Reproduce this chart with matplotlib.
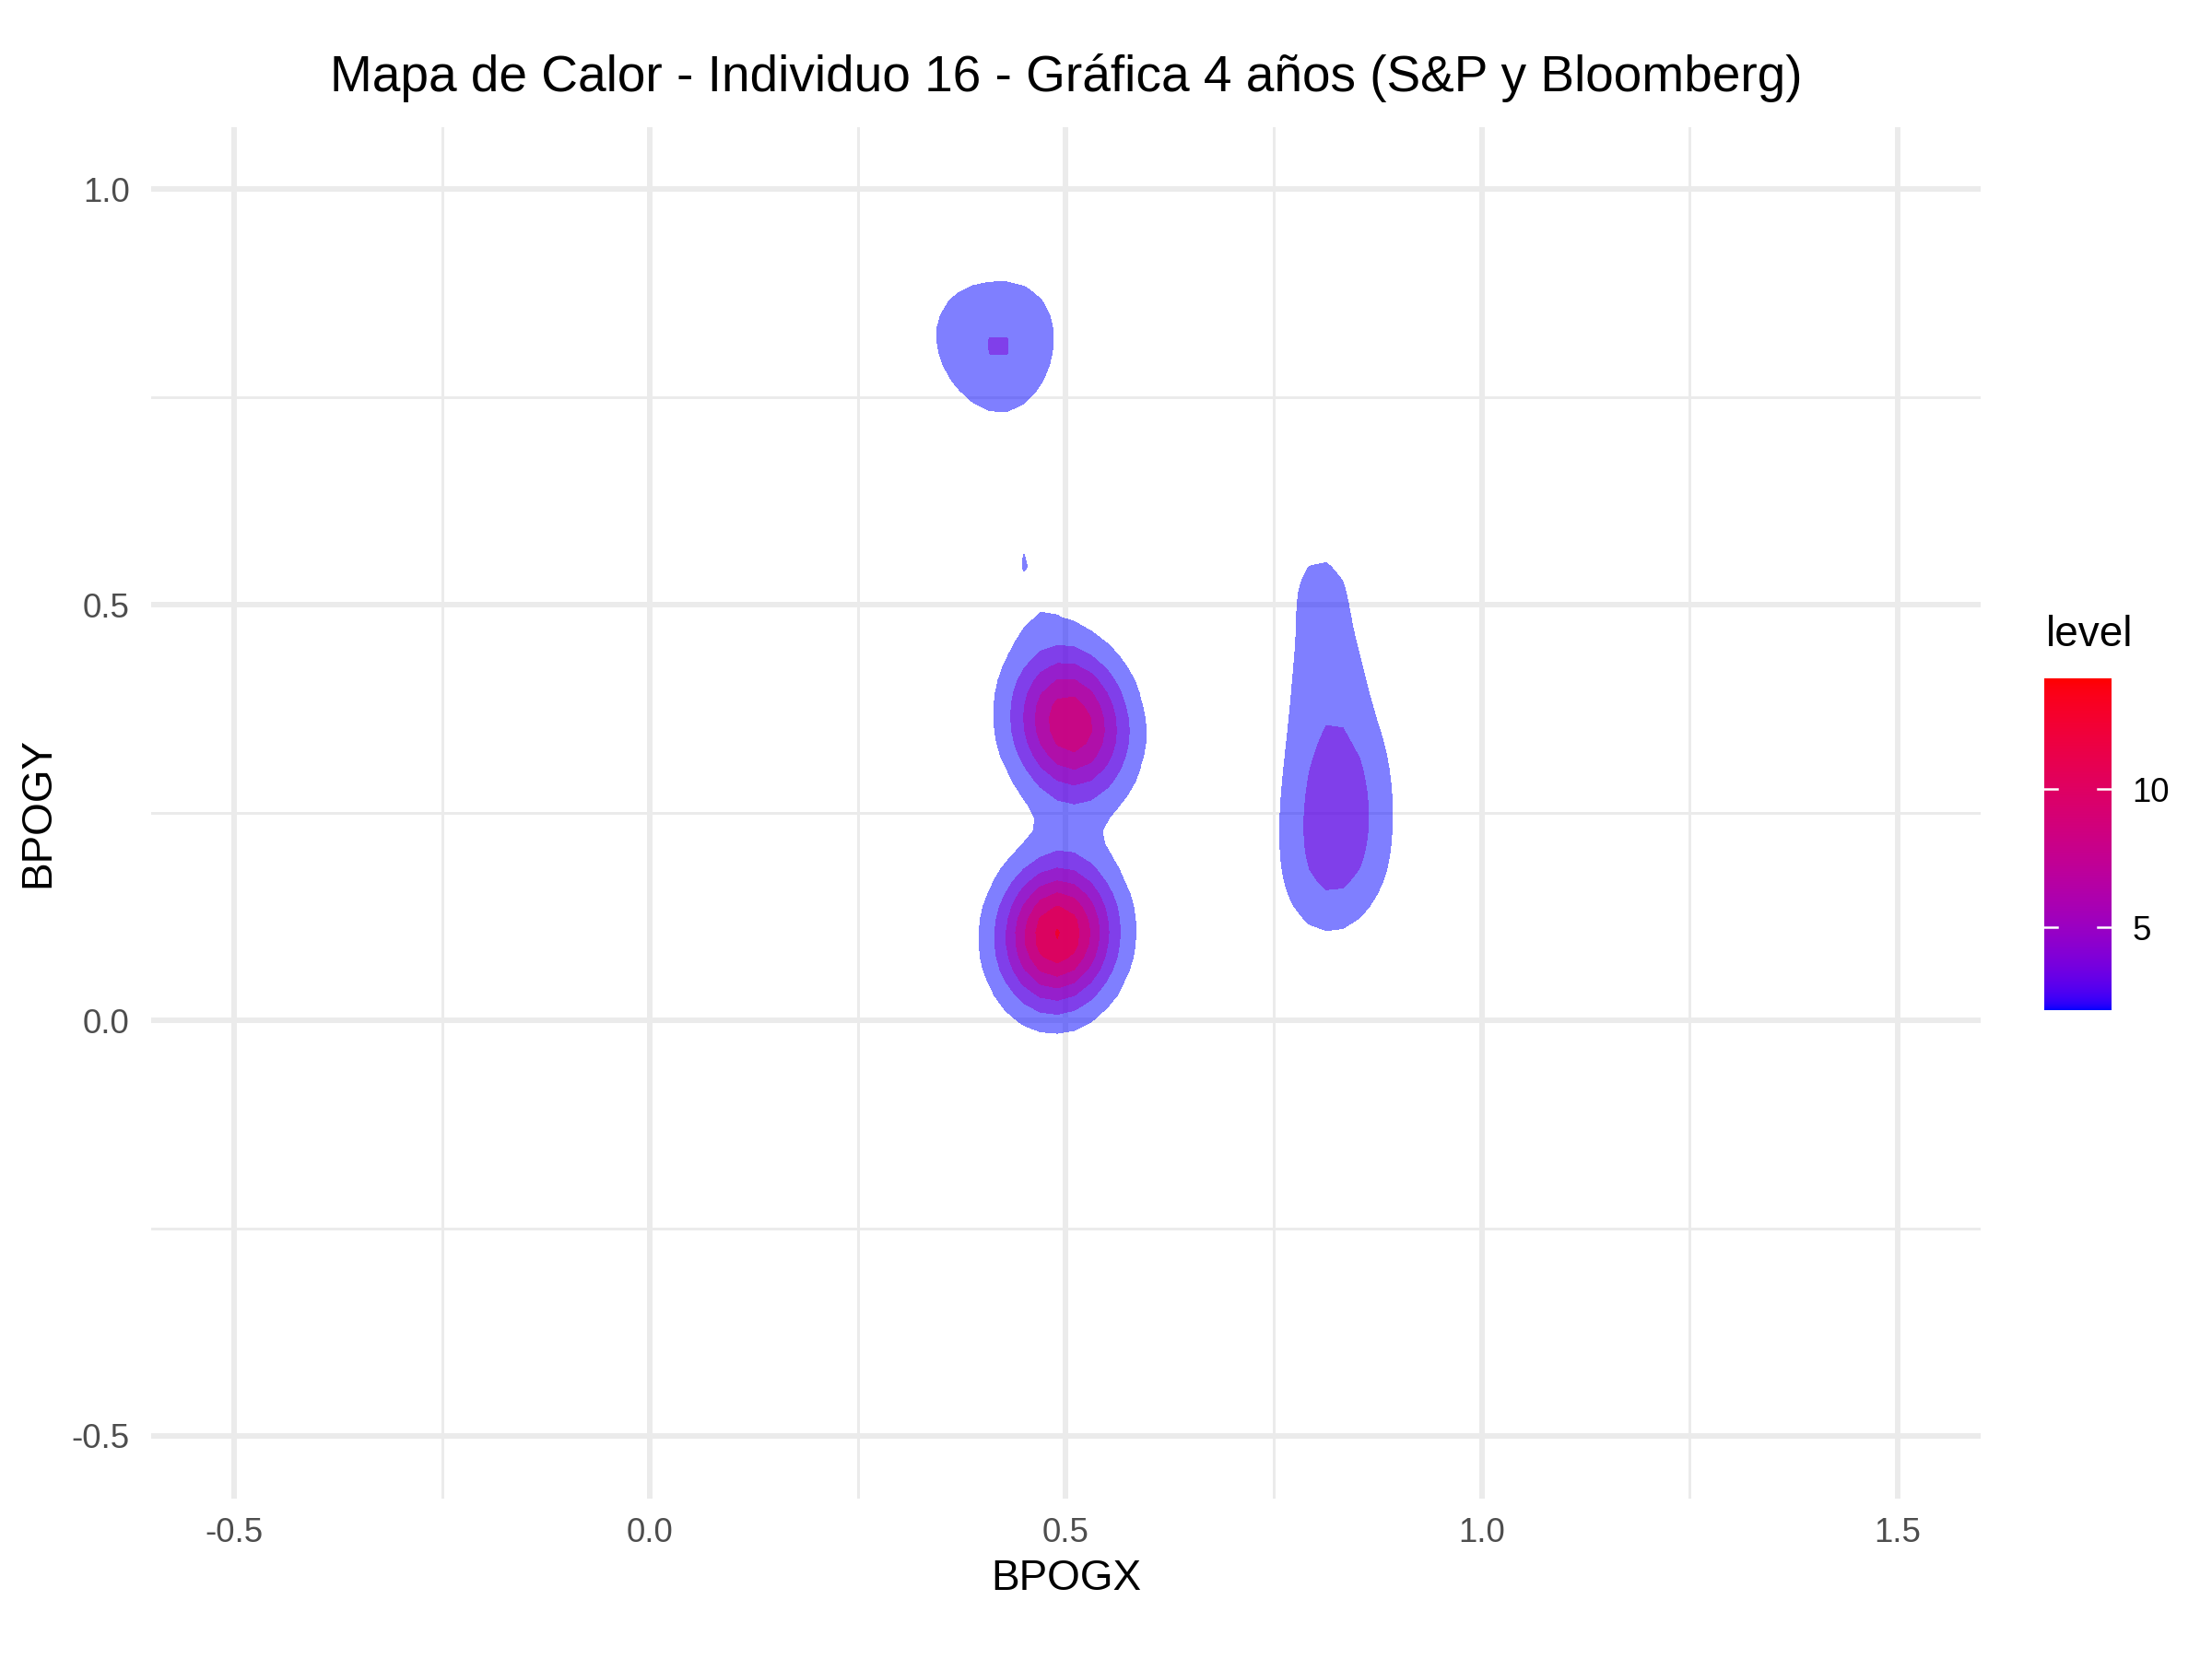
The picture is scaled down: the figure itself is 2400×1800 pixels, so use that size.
import numpy as np
import matplotlib
matplotlib.use("Agg")
import matplotlib.pyplot as plt

bpogx = [0.49, 0.49, 0.465, 0.515, 0.49, 0.49, 0.47, 0.51,   # lower cluster
         0.505, 0.48, 0.53, 0.505, 0.505, 0.48, 0.53,         # upper cluster
         0.81, 0.84, 0.81, 0.84, 0.818, 0.815, 0.806,         # right column
         0.3732, 0.4502, 0.4227,                              # top left
         0.452]                                               # lone point
bpogy = [0.103, 0.103, 0.103, 0.103, 0.073, 0.133, 0.083, 0.123,
         0.357, 0.36, 0.352, 0.325, 0.39, 0.39, 0.325,
         0.155, 0.199, 0.243, 0.287, 0.34, 0.425, 0.53,
         0.8315, 0.837, 0.7765,
         0.555]
n_obs = 32            # sample size used for the density normalisation
bw = (0.044, 0.057)   # kernel sd in x and y

levels = [2, 4, 6, 8, 10, 12, 14]
level_lim = (2, 14)
bar_ticks = [5, 10]
x_ticks = [-0.5, 0.0, 0.5, 1.0, 1.5]
y_ticks = [-0.5, 0.0, 0.5, 1.0]
x_lim = (-0.5, 1.5)
y_lim = (-0.5, 1.0)

title = "Mapa de Calor - Individuo 16 - Gráfica 4 años (S&P y Bloomberg)"

plt.rcParams['font.family'] = ['Liberation Sans', 'DejaVu Sans']

# blue -> red gradient interpolated in CIELAB, like ggplot's scale_fill_gradient
M = np.array([[0.4124, 0.3576, 0.1805],
              [0.2126, 0.7152, 0.0722],
              [0.0193, 0.1192, 0.9505]])
WHITE = np.array([0.95047, 1.0, 1.08883])


def to_lab(rgb):
    c = np.asarray(rgb, float)
    lin = np.where(c <= 0.04045, c / 12.92, ((c + 0.055) / 1.055) ** 2.4)
    xyz = M @ lin / WHITE
    f = np.where(xyz > (6 / 29) ** 3, np.cbrt(xyz), xyz / (3 * (6 / 29) ** 2) + 4 / 29)
    return np.array([116 * f[1] - 16, 500 * (f[0] - f[1]), 200 * (f[1] - f[2])])


def from_lab(lab):
    fy = (lab[0] + 16) / 116
    f = np.array([fy + lab[1] / 500, fy, fy - lab[2] / 200])
    xyz = np.where(f > 6 / 29, f ** 3, 3 * (6 / 29) ** 2 * (f - 4 / 29)) * WHITE
    lin = np.clip(np.linalg.inv(M) @ xyz, 0, 1)
    c = np.where(lin <= 0.0031308, 12.92 * lin, 1.055 * lin ** (1 / 2.4) - 0.055)
    return np.clip(c, 0, 1)


LAB_LO = to_lab([0, 0, 1])
LAB_HI = to_lab([1, 0, 0])


def fill_colour(v):
    t = (v - level_lim[0]) / (level_lim[1] - level_lim[0])
    return from_lab((1 - t) * LAB_LO + t * LAB_HI)


# 2d kernel density on a 100 x 100 grid over the axis limits
gx = np.linspace(x_lim[0], x_lim[1], 100)
gy = np.linspace(y_lim[0], y_lim[1], 100)
X, Y = np.meshgrid(gx, gy)
dens = np.zeros_like(X)
for px, py in zip(bpogx, bpogy):
    dens += np.exp(-0.5 * ((X - px) / bw[0]) ** 2 - 0.5 * ((Y - py) / bw[1]) ** 2)
dens /= 2 * np.pi * bw[0] * bw[1] * n_obs

fig = plt.figure(figsize=(8, 6), dpi=300)
ax = fig.add_axes([0.0682, 0.0969, 0.8272, 0.8266])

# one translucent polygon per level, stacked like geom_density_2d polygons
for lev in levels:
    if dens.max() > lev:
        ax.contourf(gx, gy, dens, levels=[lev, dens.max() + 1],
                    colors=[fill_colour(lev)], alpha=0.5, zorder=3)

ax.set_xlim(x_lim[0] - 0.1, x_lim[1] + 0.1)
ax.set_ylim(y_lim[0] - 0.075, y_lim[1] + 0.075)
ax.set_xticks(x_ticks)
ax.set_yticks(y_ticks)
ax.set_xticks([-0.25, 0.25, 0.75, 1.25], minor=True)
ax.set_yticks([-0.25, 0.25, 0.75], minor=True)
ax.set_xticklabels([f"{v:.1f}" for v in x_ticks])
ax.set_yticklabels([f"{v:.1f}" for v in y_ticks])
ax.grid(which='major', color='#EBEBEB', lw=1.42, zorder=0)
ax.grid(which='minor', color='#EBEBEB', lw=0.71, zorder=0)
ax.tick_params(which='both', length=0, labelsize=8.8, labelcolor='#4D4D4D')
ax.tick_params(axis='x', pad=5.0)
ax.tick_params(axis='y', pad=5.5)
for s in ax.spines.values():
    s.set_visible(False)

fig.text(0.4818, 0.953, title, ha='center', va='center', fontsize=13.2)
fig.text(0.4818, 0.0485, "BPOGX", ha='center', va='center', fontsize=11)
fig.text(0.0172, 0.5102, "BPOGY", ha='center', va='center', fontsize=11, rotation=90)

# colour bar
cax = fig.add_axes([0.924, 0.391, 0.0304, 0.2])
grad = np.linspace(level_lim[0], level_lim[1], 300)
cax.imshow(np.array([fill_colour(v) for v in grad])[:, None, :], origin='lower',
           extent=[0, 1, level_lim[0], level_lim[1]], aspect='auto')
for t in bar_ticks:
    cax.plot([0, 0.2], [t, t], color='white', lw=0.6)
    cax.plot([0.8, 1], [t, t], color='white', lw=0.6)
cax.set_xlim(0, 1)
cax.set_ylim(*level_lim)
cax.set_xticks([])
cax.yaxis.tick_right()
cax.set_yticks(bar_ticks)
cax.tick_params(length=0, labelsize=8.8, pad=5.5)
for s in cax.spines.values():
    s.set_visible(False)
fig.text(0.925, 0.617, "level", ha='left', va='center', fontsize=11)

fig.savefig("out.png", dpi=300)
